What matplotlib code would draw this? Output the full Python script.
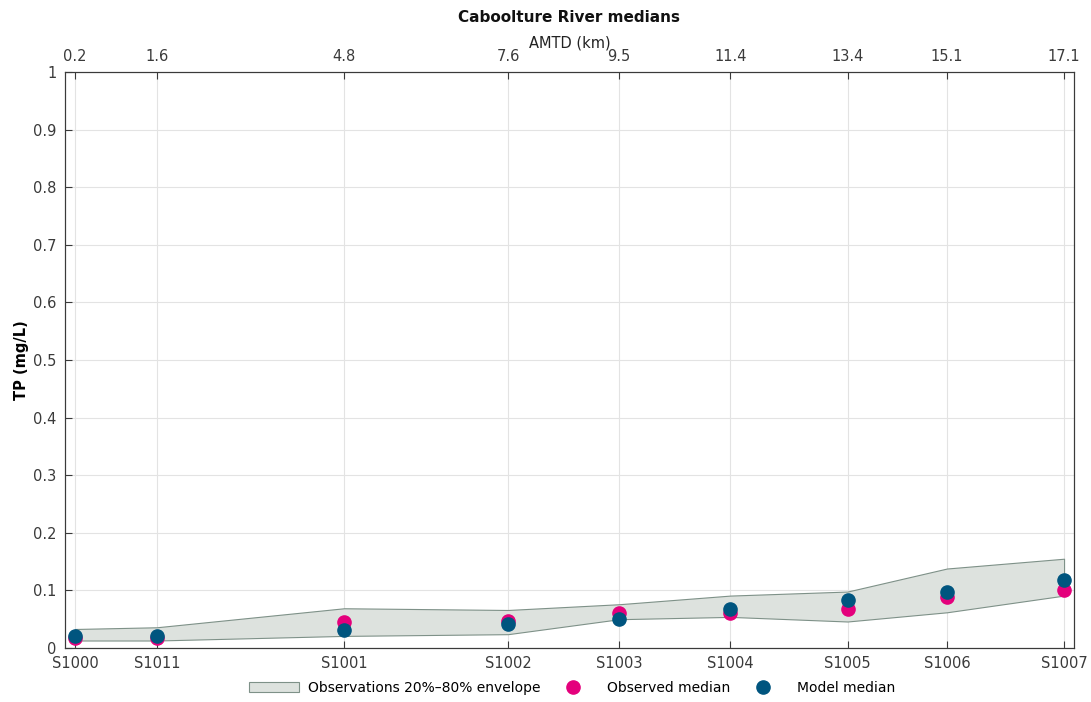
import matplotlib
matplotlib.use("Agg")
import matplotlib.pyplot as plt
from matplotlib.patches import Patch
from matplotlib.lines import Line2D

stations = ["S1000", "S1011", "S1001", "S1002", "S1003", "S1004", "S1005", "S1006", "S1007"]
amtd_km = [0.2, 1.6, 4.8, 7.6, 9.5, 11.4, 13.4, 15.1, 17.1]
env_low = [0.013, 0.013, 0.021, 0.024, 0.050, 0.054, 0.046, 0.062, 0.091]
env_high = [0.033, 0.036, 0.069, 0.066, 0.076, 0.091, 0.098, 0.138, 0.155]
obs_median = [0.018, 0.017, 0.045, 0.047, 0.060, 0.061, 0.067, 0.088, 0.100]
model_median = [0.020, 0.021, 0.031, 0.041, 0.051, 0.067, 0.084, 0.098, 0.118]
yticks = [0, 0.1, 0.2, 0.3, 0.4, 0.5, 0.6, 0.7, 0.8, 0.9, 1]
ytick_labels = ["0", "0.1", "0.2", "0.3", "0.4", "0.5", "0.6", "0.7", "0.8", "0.9", "1"]

pink = "#E4007C"
blue = "#00557F"
fill_c = "#DDE2DE"
edge_c = "#7E9188"
axis_c = "#3A3A3A"

plt.rcParams['font.family'] = ['DejaVu Sans']
fig = plt.figure(figsize=(10.91, 7.02), dpi=100)
ax = fig.add_axes([65/1091, 1-648/702, (1074-65)/1091, (648-72)/702])

ax.fill_between(amtd_km, env_low, env_high, facecolor=fill_c, edgecolor=edge_c, linewidth=0.8, zorder=2)
ax.plot(amtd_km, obs_median, 'o', color=pink, markersize=9.5, zorder=3, linestyle='none')
ax.plot(amtd_km, model_median, 'o', color=blue, markersize=9.5, zorder=4, linestyle='none')

ax.set_xlim(0.03, 17.27)
ax.set_ylim(0, 1)
ax.set_xticks(amtd_km)
ax.set_xticklabels(stations, fontsize=10.5, color=axis_c)
ax.set_yticks(yticks)
ax.set_yticklabels(ytick_labels, fontsize=10.5, color=axis_c)
ax.grid(True, color="#E3E3E3", linewidth=0.8, zorder=0)
ax.set_axisbelow(True)
ax.tick_params(direction='in', length=5, color=axis_c, pad=6)
for s in ax.spines.values():
    s.set_color(axis_c)
    s.set_linewidth(0.8)
ax.set_ylabel("TP (mg/L)", fontsize=10.5, fontweight='bold', labelpad=3)

ax2 = ax.twiny()
ax2.set_xlim(ax.get_xlim())
ax2.set_xticks(amtd_km)
ax2.set_xticklabels([f"{v:g}" for v in amtd_km], fontsize=10.5, color=axis_c)
ax2.tick_params(direction='in', length=5, color=axis_c, pad=6)
ax2.set_xlabel("AMTD (km)", fontsize=10.5, labelpad=1, color="#222222")
for s in ax2.spines.values():
    s.set_color(axis_c)
    s.set_linewidth(0.8)

fig.text((65+1074)/2/1091, 1-17/702, "Caboolture River medians", ha='center', va='center',
         fontsize=11, fontweight='bold', color="#111111")

handles = [
    Patch(facecolor=fill_c, edgecolor=edge_c, linewidth=0.8, label="Observations 20%–80% envelope"),
    Line2D([], [], marker='o', linestyle='none', color=pink, markersize=9.5, label="Observed median"),
    Line2D([], [], marker='o', linestyle='none', color=blue, markersize=9.5, label="Model median"),
]
fig.legend(handles=handles, loc='center', bbox_to_anchor=(572/1091, 1-688/702), ncol=3, frameon=False,
           fontsize=10, handlelength=3.6, handletextpad=0.6, columnspacing=0.6)

fig.savefig("out.png", dpi=100)
